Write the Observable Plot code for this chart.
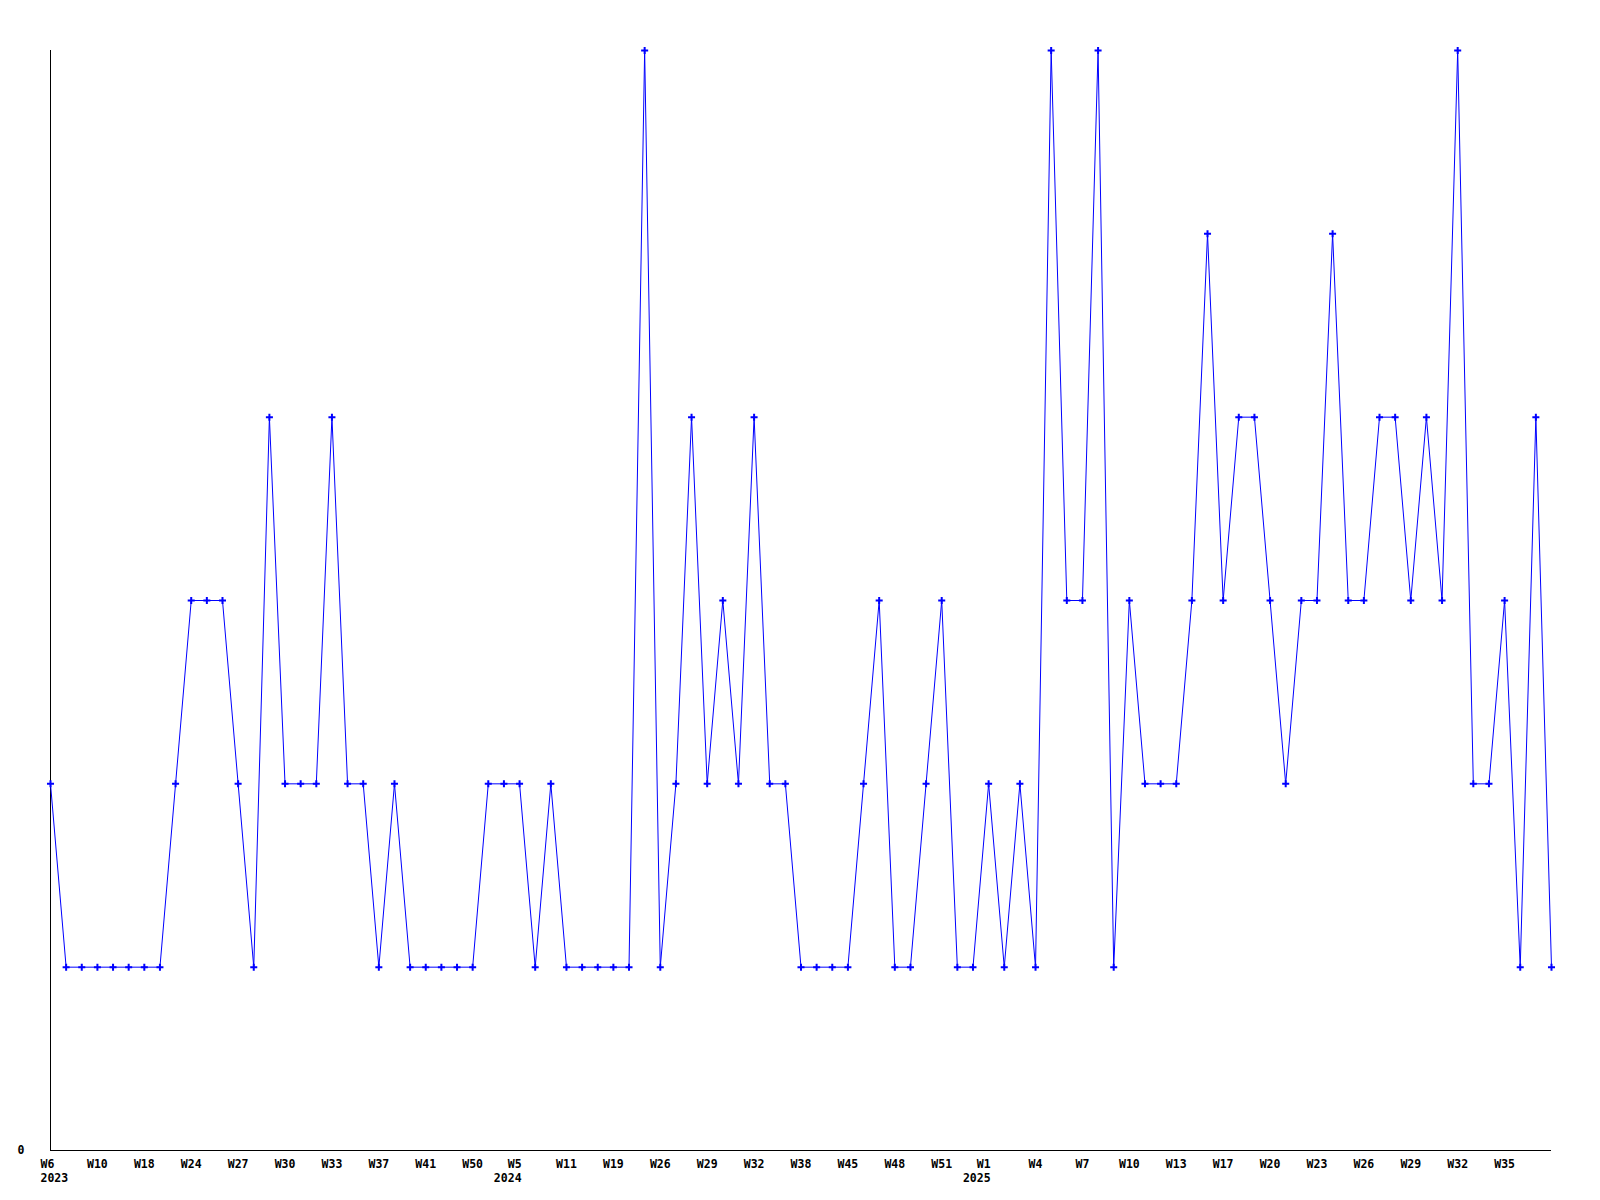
<!DOCTYPE html>
<html>
<head>
<meta charset="utf-8">
<script src="https://cdn.jsdelivr.net/npm/d3@7"></script>
<script src="https://cdn.jsdelivr.net/npm/@observablehq/plot@0.6"></script>
<style>
  html, body { margin: 0; padding: 0; background: #ffffff; }
  #chart { width: 1600px; height: 1200px; }
</style>
</head>
<body>
<div id="chart"></div>
<script>
// ---- data ----
const weeks2023 = ["W6","W7","W9","W10","W12","W15","W18","W20","W22","W24","W25","W26","W27","W28","W29","W30","W31","W32","W33","W35","W36","W37","W39","W40","W41","W44","W47","W50","W51","W52"];
const weeks2024 = ["W5","W7","W9","W11","W14","W17","W19","W21","W23","W26","W27","W28","W29","W30","W31","W32","W34","W36","W38","W40","W43","W45","W46","W47","W48","W49","W50","W51","W52","W53"];
const weeks2025 = ["W1","W2","W3","W4","W5","W6","W7","W8","W9","W10","W11","W12","W13","W14","W16","W17","W18","W19","W20","W21","W22","W23","W24","W25","W26","W27","W28","W29","W30","W31","W32","W33","W34","W35","W36","W37","W38"];
const years = ["2023", "2024", "2025"];
const counts = [
  2,1,1,1,1,1,1,1,2,3,
  3,3,2,1,4,2,2,2,4,2,
  2,1,2,1,1,1,1,1,2,2,
  2,1,2,1,1,1,1,1,6,1,
  2,4,2,3,2,4,2,2,1,1,
  1,1,2,3,1,1,2,3,1,1,
  2,1,2,1,6,3,3,6,1,3,
  2,2,2,3,5,3,4,4,3,2,
  3,3,5,3,3,4,4,3,4,3,
  6,2,2,3,1,4,1
];
const yTicks = [0];
const labelEvery = 3;

// ---- build table ----
const weekLists = [weeks2023, weeks2024, weeks2025];
const data = [];
weekLists.forEach((wl, yi) => {
  wl.forEach((w, wi) => {
    data.push({key: years[yi] + "-" + w, week: w, year: years[yi], firstOfYear: wi === 0});
  });
});
data.forEach((d, i) => { d.count = counts[i]; d.index = i; });
const keys = data.map(d => d.key);
const byKey = new Map(data.map(d => [d.key, d]));

const tickRows = data.filter(d => d.index % labelEvery === 0 && d.index < data.length - 1);
const firstTick = tickRows.filter(d => d.index === 0).map(d => d.key);
const yearTicks = tickRows.filter(d => d.firstOfYear && d.index !== 0).map(d => d.key);
const plainTicks = tickRows.filter(d => !d.firstOfYear).map(d => d.key);
const fmt = k => { const d = byKey.get(k); return d.firstOfYear ? d.week + "\n" + d.year : d.week; };

const blue = "#0000ff";
const axisCommon = {tickSize: 0, tickPadding: 8, tickFormat: fmt, lineHeight: 1.22, fill: "#000", label: null};

const chart = Plot.plot({
  width: 1600,
  height: 1200,
  marginLeft: 50,
  marginRight: 49,
  marginTop: 50,
  marginBottom: 50,
  style: "font-family: 'DejaVu Sans Mono', monospace; font-weight: bold; font-size: 11.5px; background: #ffffff; color: #000;",
  x: {type: "point", domain: keys, padding: 0, axis: null, label: null},
  y: {domain: [0, 6], axis: null, label: null},
  marks: [
    Plot.ruleY([0], {stroke: "#000", strokeWidth: 1}),
    Plot.ruleX([keys[0]], {stroke: "#000", strokeWidth: 1}),
    Plot.axisY({ticks: yTicks, tickSize: 0, tickPadding: 26, tickFormat: d => String(d), fill: "#000", label: null}),
    Plot.axisX({...axisCommon, ticks: plainTicks, textAnchor: "middle"}),
    Plot.axisX({...axisCommon, ticks: yearTicks, textAnchor: "end", dx: 2}),
    Plot.axisX({...axisCommon, ticks: firstTick, textAnchor: "start", dx: -10}),
    Plot.line(data, {x: "key", y: "count", stroke: blue, strokeWidth: 1}),
    Plot.dot(data, {x: "key", y: "count", symbol: "plus", r: 2.4, stroke: blue, strokeWidth: 2})
  ]
});
document.getElementById("chart").appendChild(chart);
</script>
</body>
</html>
